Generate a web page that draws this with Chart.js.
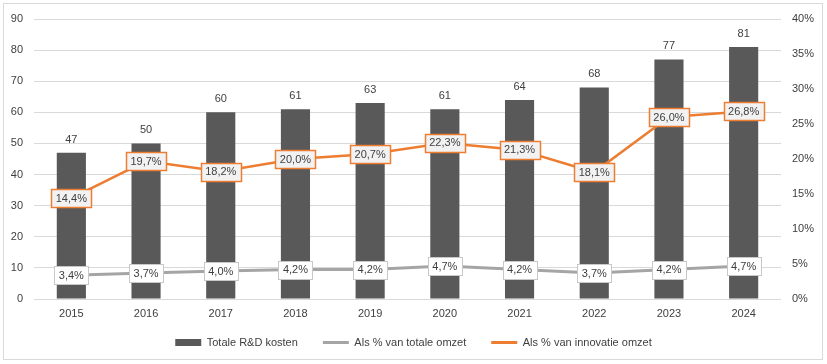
<!DOCTYPE html>
<html>
<head>
<meta charset="utf-8">
<script src="https://cdn.jsdelivr.net/npm/chart.js@4"></script>
<style>
html, body { margin: 0; padding: 0; background: #fff; }
#wrap { position: relative; width: 827px; height: 364px; overflow: hidden; }
#frame { position: absolute; left: 3px; top: 3px; width: 820px; height: 357px; border: 1px solid #d9d9d9; box-sizing: border-box; }
#chart { position: absolute; left: 0; top: 0; }
</style>
</head>
<body>
<div id="wrap">
<div id="frame"></div>
<canvas id="chart" width="827" height="364"></canvas>
</div>
<script>
// data
const years = ["2015","2016","2017","2018","2019","2020","2021","2022","2023","2024"];
const rdCosts = [47, 50, 60, 61, 63, 61, 64, 68, 77, 81];
const pctTotal = [3.4, 3.7, 4.0, 4.2, 4.2, 4.7, 4.2, 3.7, 4.2, 4.7];
const pctInnov = [14.4, 19.7, 18.2, 20.0, 20.7, 22.3, 21.3, 18.1, 26.0, 26.8];
const seriesNames = ["Totale R&D kosten", "Als % van totale omzet", "Als % van innovatie omzet"];
const leftMax = 90, leftStep = 10;
const rightMax = 40, rightStep = 5;

const FONT = '"Liberation Sans", Arial, sans-serif';
const TXT = "#404040";
const BAR = "#595959", GREY = "#A5A5A5", ORANGE = "#ED7D31";

Chart.defaults.font.family = FONT;
Chart.defaults.font.size = 11;
Chart.defaults.color = TXT;

function pct(v) { return v.toFixed(1).replace(".", ",") + "%"; }

// labels: numbers above bars, boxed percentages on the lines
const valueLabels = {
  id: "valueLabels",
  afterDatasetsDraw(chart) {
    const ctx = chart.ctx;
    ctx.save();
    ctx.font = "11px " + FONT;
    ctx.textAlign = "center";
    ctx.textBaseline = "middle";
    ctx.fillStyle = TXT;
    chart.getDatasetMeta(0).data.forEach((el, i) => {
      ctx.fillText(String(rdCosts[i]), el.x, el.y - 13);
    });
    const boxes = [
      { idx: 1, vals: pctTotal, fill: "#FFFFFF", stroke: "#C8C8C8", lw: 1 },
      { idx: 2, vals: pctInnov, fill: "#F2F2F2", stroke: ORANGE, lw: 1.5 }
    ];
    boxes.forEach(b => {
      chart.getDatasetMeta(b.idx).data.forEach((el, i) => {
        const t = pct(b.vals[i]);
        const w = Math.round(ctx.measureText(t).width + 9);
        const h = 18;
        const x = Math.round(el.x - w / 2) + 0.5, y = Math.round(el.y - h / 2) + 0.5;
        ctx.fillStyle = b.fill;
        ctx.fillRect(x, y, w, h);
        ctx.lineWidth = b.lw;
        ctx.strokeStyle = b.stroke;
        ctx.strokeRect(x, y, w, h);
        ctx.fillStyle = TXT;
        ctx.fillText(t, el.x, el.y + 0.5);
      });
    });
    ctx.restore();
  }
};

new Chart(document.getElementById("chart"), {
  type: "bar",
  data: {
    labels: years,
    datasets: [{
      type: "bar",
      label: seriesNames[0],
      data: rdCosts,
      backgroundColor: BAR,
      yAxisID: "y",
      barPercentage: 0.39,
      categoryPercentage: 1,
      order: 3
    }, {
      type: "line",
      label: seriesNames[1],
      data: pctTotal,
      borderColor: GREY,
      borderWidth: 3,
      pointRadius: 0,
      tension: 0,
      yAxisID: "y1",
      order: 2
    }, {
      type: "line",
      label: seriesNames[2],
      data: pctInnov,
      borderColor: ORANGE,
      borderWidth: 2.5,
      pointRadius: 0,
      tension: 0,
      yAxisID: "y1",
      order: 1
    }]
  },
  options: {
    responsive: false,
    animation: false,
    layout: { padding: { top: 19, bottom: 6, left: 0, right: 0 } },
    plugins: {
      tooltip: { enabled: false },
      legend: {
        position: "bottom",
        labels: {
          usePointStyle: true,
          pointStyleWidth: 26,
          boxHeight: 7,
          padding: 25,
          color: TXT,
          generateLabels() {
            return [
              { text: seriesNames[0], fillStyle: BAR, strokeStyle: BAR, lineWidth: 0, pointStyle: "rect", datasetIndex: 0, fontColor: TXT },
              { text: seriesNames[1], fillStyle: GREY, strokeStyle: GREY, lineWidth: 3, pointStyle: "line", datasetIndex: 1, fontColor: TXT },
              { text: seriesNames[2], fillStyle: ORANGE, strokeStyle: ORANGE, lineWidth: 3, pointStyle: "line", datasetIndex: 2, fontColor: TXT }
            ];
          }
        }
      }
    },
    scales: {
      x: {
        grid: { display: false },
        border: { display: false },
        ticks: { padding: 0, maxRotation: 0 },
        afterFit(s) {
          s.height = 13;
          // keep the year labels from being clipped to the short axis box
          s._computeLabelArea = () => undefined;
        }
      },
      y: {
        position: "left",
        min: 0,
        max: leftMax,
        ticks: { stepSize: leftStep, padding: 11 },
        grid: { color: "#D9D9D9", drawTicks: false },
        border: { display: false },
        afterFit(s) { s.width = 34; }
      },
      y1: {
        position: "right",
        min: 0,
        max: rightMax,
        ticks: { stepSize: rightStep, padding: 11, callback: v => v + "%" },
        grid: { display: false, drawTicks: false },
        border: { display: false },
        afterFit(s) { s.width = 46; }
      }
    }
  },
  plugins: [valueLabels]
});
</script>
</body>
</html>
